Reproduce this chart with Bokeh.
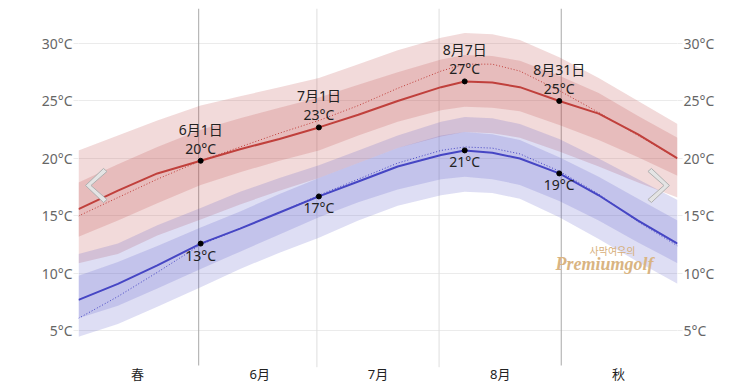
import pandas as pd
from bokeh.plotting import figure
from bokeh.models import (ColumnDataSource, FixedTicker, LinearAxis, Range1d, Label)
from bokeh.core.properties import value
from bokeh.embed import file_html
from bokeh.resources import INLINE

# ---------------- data ----------------
dates = ["05-01", "05-11", "05-21", "06-01", "06-11", "06-21", "07-01", "07-11", "07-21",
         "08-01", "08-07", "08-14", "08-21", "08-31", "09-10", "09-20", "09-30"]

high_avg = [15.6, 17.2, 18.7, 19.8, 20.8, 21.7, 22.7, 23.8, 25.0, 26.2, 26.7, 26.6, 26.2, 25.0, 23.9, 22.1, 20.0]
high_dotted = [15.0, 16.6, 18.2, 19.8, 21.0, 22.2, 23.3, 24.6, 26.1, 27.6, 28.2, 28.2, 27.6, 25.9, 24.0, 22.0, 20.0]
high_p90 = [20.7, 22.0, 23.3, 24.6, 25.4, 26.2, 27.0, 28.2, 29.4, 30.5, 30.9, 30.8, 30.3, 28.8, 27.0, 25.0, 23.0]
high_p75 = [17.9, 19.5, 21.0, 22.5, 23.5, 24.4, 25.3, 26.4, 27.5, 28.6, 29.0, 28.9, 28.5, 27.2, 25.7, 23.7, 21.8]
high_p25 = [13.2, 14.6, 16.1, 17.7, 18.8, 19.8, 20.7, 22.0, 23.2, 24.2, 24.5, 24.4, 24.1, 22.9, 21.6, 20.1, 18.5]
high_p10 = [10.9, 11.7, 13.3, 14.7, 16.0, 17.2, 18.3, 19.6, 20.9, 21.9, 22.3, 22.2, 21.8, 20.6, 19.3, 17.9, 16.6]

low_avg = [7.7, 9.1, 10.7, 12.6, 13.9, 15.3, 16.7, 18.0, 19.3, 20.3, 20.7, 20.5, 20.0, 18.7, 16.8, 14.6, 12.6]
low_dotted = [6.1, 8.0, 10.1, 12.5, 13.9, 15.3, 16.8, 18.2, 19.6, 20.7, 21.0, 20.9, 20.4, 18.9, 16.9, 14.5, 12.4]
low_p90 = [11.7, 12.6, 14.2, 15.7, 17.1, 18.3, 19.4, 20.7, 22.0, 23.2, 23.6, 23.5, 23.0, 21.7, 20.0, 18.2, 16.4]
low_p75 = [9.8, 11.0, 12.4, 14.0, 15.4, 16.9, 18.3, 19.6, 20.9, 22.0, 22.3, 22.1, 21.6, 20.1, 18.4, 16.5, 14.6]
low_p25 = [6.1, 7.2, 8.7, 10.4, 11.9, 13.4, 14.9, 16.2, 17.3, 18.2, 18.4, 18.2, 17.7, 16.3, 14.6, 12.7, 10.9]
low_p10 = [4.5, 5.6, 7.1, 8.8, 10.4, 11.8, 13.1, 14.6, 15.9, 16.8, 17.1, 17.0, 16.5, 14.9, 13.0, 11.0, 9.1]

highlight_dates = ["06-01", "07-01", "08-07", "08-31"]
highlight_names = ["6月1日", "7月1日", "8月7日", "8月31日"]
highlight_high = [19.8, 22.7, 26.7, 25.0]
highlight_low = [12.6, 16.7, 20.7, 18.7]

x_label_dates = ["05-16", "06-16", "07-16", "08-16", "09-15"]
x_labels = ["春", "6月", "7月", "8月", "秋"]
season_bounds = ["06-01", "09-01"]
month_bounds = ["07-01", "08-01"]
y_ticks = [5, 10, 15, 20, 25, 30]


def off(md):
    return (pd.Timestamp("2023-" + md) - pd.Timestamp("2023-05-01")).days


x = [off(d) for d in dates]
src = ColumnDataSource(dict(x=x, ha=high_avg, hd=high_dotted, h90=high_p90, h75=high_p75,
                            h25=high_p25, h10=high_p10, la=low_avg, ld=low_dotted,
                            l90=low_p90, l75=low_p75, l25=low_p25, l10=low_p10))

hx = [off(d) for d in highlight_dates]
hi_src = ColumnDataSource(dict(
    x=hx, y=highlight_high,
    t=[f"{n}\n{round(v)}°C" for n, v in zip(highlight_names, highlight_high)]))
lo_src = ColumnDataSource(dict(
    x=hx, y=highlight_low, t=[f"{round(v)}°C" for v in highlight_low]))

FONT = "Noto Sans, Noto Sans CJK KR"
RED = "#c0403c"
BLUE = "#4646c4"

Y_TOP, Y_BOT = 33.04, 0.26      # view range (frame runs to the bottom of the page)
LINE_BOT = 2.0                  # where the vertical guide lines stop
LABEL_Y = 1.22                  # level of the month labels

p = figure(width=753, height=385, output_backend="svg", toolbar_location=None,
           x_range=Range1d(0, 152), y_range=Range1d(Y_BOT, Y_TOP),
           min_border_left=78, min_border_right=76, min_border_top=8, min_border_bottom=0)
p.outline_line_color = None
p.background_fill_color = "white"
p.border_fill_color = "white"
p.xaxis.visible = False
p.xgrid.visible = False
p.ygrid.ticker = FixedTicker(ticks=y_ticks)
p.ygrid.grid_line_color = "#ebebeb"

# season / month boundaries
sb = [off(d) - 0.5 for d in season_bounds]
mb = [off(d) - 0.5 for d in month_bounds]
p.segment(x0=sb, x1=sb, y0=[LINE_BOT] * 2, y1=[Y_TOP] * 2, line_color="#a8a8a8", line_width=1)
p.segment(x0=mb, x1=mb, y0=[LINE_BOT - 0.15] * 2, y1=[Y_TOP] * 2, line_color="#dedede", line_width=1)

# bands
p.varea(x="x", y1="h10", y2="h90", source=src, fill_color="#c04848", fill_alpha=0.2)
p.varea(x="x", y1="h25", y2="h75", source=src, fill_color="#c04848", fill_alpha=0.2)
p.varea(x="x", y1="l10", y2="l90", source=src, fill_color="#5a5ac8", fill_alpha=0.2)
p.varea(x="x", y1="l25", y2="l75", source=src, fill_color="#5a5ac8", fill_alpha=0.2)

# lines
p.line(x="x", y="hd", source=src, line_color=RED, line_width=1, line_dash="1 2")
p.line(x="x", y="ha", source=src, line_color=RED, line_width=2)
p.line(x="x", y="ld", source=src, line_color=BLUE, line_width=1, line_dash="1 2")
p.line(x="x", y="la", source=src, line_color=BLUE, line_width=2)

# highlight points + labels
p.scatter(x="x", y="y", source=hi_src, size=5, color="black")
p.scatter(x="x", y="y", source=lo_src, size=5, color="black")
p.text(x="x", y="y", text="t", source=hi_src, text_align="center", text_baseline="bottom",
       y_offset=-3, text_font=value(FONT), text_font_size="14px", text_color="#222222",
       text_line_height=1.0)
p.text(x="x", y="y", text="t", source=lo_src, text_align="center", text_baseline="top",
       y_offset=2, text_font=value(FONT), text_font_size="14px", text_color="#222222")

# month / season labels along the bottom
p.text(x=[off(d) for d in x_label_dates], y=[LABEL_Y] * len(x_labels), text=x_labels,
       text_align="center", text_baseline="middle", text_font=value(FONT),
       text_font_size="13px", text_color="#222222")

# y axes both sides
p.yaxis.ticker = FixedTicker(ticks=y_ticks)
p.yaxis.major_label_overrides = {t: f"{t}°C" for t in y_ticks}
right = LinearAxis(ticker=FixedTicker(ticks=y_ticks),
                   major_label_overrides={t: f"{t}°C" for t in y_ticks})
p.add_layout(right, "right")
for ax in (p.yaxis[0], right):
    ax.axis_line_color = None
    ax.major_tick_line_color = "#ebebeb"
    ax.major_tick_out = 5
    ax.major_tick_in = 0
    ax.minor_tick_line_color = None
    ax.major_label_standoff = 1
    ax.major_label_text_font = FONT
    ax.major_label_text_font_size = "14px"
    ax.major_label_text_color = "#666666"

# navigation chevrons (decoration)
p.patch(x=[6.34, 1.78, 6.34, 7.23, 3.17, 7.23], y=[19.13, 17.65, 16.17, 16.43, 17.65, 18.87],
        fill_color="#e4e4e4", line_color="#b0b0b0", line_width=1)
p.patch(x=[145.39, 149.96, 145.39, 144.50, 148.57, 144.50], y=[19.13, 17.65, 16.17, 16.43, 17.65, 18.87],
        fill_color="#e4e4e4", line_color="#b0b0b0", line_width=1)

# watermark
p.add_layout(Label(x=135.5, y=12.0, text="사막여우의",
                   text_font="Noto Sans CJK KR", text_font_size="10px", text_color="#d6ae7a",
                   text_align="center", text_baseline="middle"))
p.add_layout(Label(x=133.5, y=10.85, text="Premiumgolf",
                   text_font="Liberation Serif", text_font_style="bold italic",
                   text_font_size="18px", text_color="#d9b482",
                   text_align="center", text_baseline="middle"))

open("out.html", "w").write(file_html(p, INLINE))
